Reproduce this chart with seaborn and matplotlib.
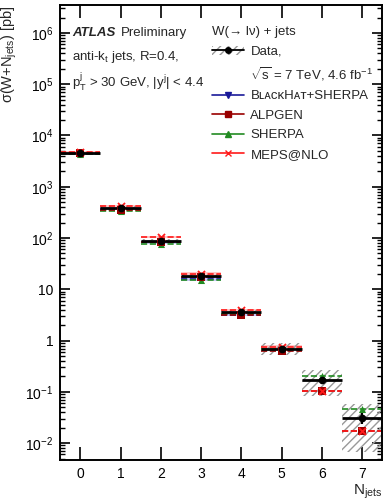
import numpy as np
import seaborn as sns
import matplotlib.pyplot as plt
from matplotlib.lines import Line2D
from matplotlib.patches import Patch
from matplotlib.ticker import FixedLocator, FuncFormatter, LogLocator, NullFormatter

# ---------------- data ----------------
n_jets = np.array([0, 1, 2, 3, 4, 5, 6, 7])

data_xs = [4600, 388, 89, 18.3, 3.54, 0.70, 0.169, 0.0311]
data_stat = [5, 2, 0.5, 0.15, 0.05, 0.02, 0.015, 0.008]
data_lo = [4400, 360, 81, 16.5, 3.12, 0.52, 0.082, 0.0068]
data_hi = [4800, 416, 97, 20.1, 3.96, 0.885, 0.265, 0.0576]

bh_n = np.array([0, 1, 2, 3, 4])
bh_xs = [4400, 370, 84, 16.0, 3.2]
bh_lo = [4150, 345, 78, 14.8, 2.95]
bh_hi = [4650, 395, 90, 17.2, 3.45]

alpgen_xs = [4560, 355, 84, 17.0, 3.2, 0.63, 0.104, 0.0171]
sherpa_xs = [4450, 340, 76, 15.5, 3.35, 0.68, 0.203, 0.0466]

meps_n = np.array([0, 1, 2, 3, 4, 5, 6, 7])
meps_xs = [4850, 430, 103, 20.3, 3.95, 0.76, 0.105, 0.0172]
meps_band_n = np.array([0, 1, 2, 3, 4, 5])
meps_lo = [4650, 410, 98, 19.2, 3.7, 0.71]
meps_hi = [5050, 450, 108, 21.4, 4.2, 0.81]

# ---------------- style ----------------
sns.set_theme(style="ticks")
plt.rcParams["font.family"] = ["Liberation Sans", "DejaVu Sans"]
plt.rcParams["mathtext.fontset"] = "custom"
plt.rcParams["mathtext.rm"] = "Liberation Sans"
plt.rcParams["mathtext.it"] = "Liberation Sans:italic"
plt.rcParams["mathtext.bf"] = "Liberation Sans:bold"
plt.rcParams["hatch.linewidth"] = 1.0

c_bh = "#1a1a99"
c_alp = "#990000"
c_sh = "#228b22"
c_meps = "#ff1a1a"
c_hatch = "#999999"

fig = plt.figure(figsize=(3.83, 5.04), dpi=100)
ax = fig.add_axes([0.157, 0.087, 0.841, 0.903])
ax.set_yscale("log")

# bands
ax.bar(bh_n, np.array(bh_hi) - np.array(bh_lo), bottom=bh_lo, width=1.0,
       color="#9999ee", alpha=0.55, linewidth=0)
ax.bar(meps_band_n, np.array(meps_hi) - np.array(meps_lo), bottom=meps_lo, width=1.0,
       color="#ff9999", alpha=0.55, linewidth=0)
ax.bar(n_jets, np.array(data_hi) - np.array(data_lo), bottom=data_lo, width=1.0,
       facecolor="none", edgecolor=c_hatch, hatch="////", linewidth=0)

# model lines
ax.hlines(bh_xs, bh_n - 0.5, bh_n + 0.5, colors=c_bh, linestyles="--", linewidth=1.2)
ax.hlines(sherpa_xs, n_jets - 0.5, n_jets + 0.5, colors=c_sh, linestyles="--", linewidth=1.2)
ax.hlines(alpgen_xs, n_jets - 0.5, n_jets + 0.5, colors=c_alp, linestyles="--", linewidth=1.2)
ax.hlines(meps_xs, meps_n - 0.5, meps_n + 0.5, colors=c_meps, linestyles="--", linewidth=1.2)

# data line
ax.hlines(data_xs, n_jets - 0.5, n_jets + 0.5, colors="black", linewidth=2.0)

# markers
sns.scatterplot(x=bh_n, y=bh_xs, marker="v", color=c_bh, s=26, linewidth=0, ax=ax, zorder=4)
sns.scatterplot(x=n_jets, y=sherpa_xs, marker="^", color=c_sh, s=26, linewidth=0, ax=ax, zorder=4)
sns.scatterplot(x=n_jets, y=alpgen_xs, marker="s", color=c_alp, s=28, linewidth=0, ax=ax, zorder=4)
sns.scatterplot(x=meps_n, y=meps_xs, marker="x", color=c_meps, s=26, linewidth=1.3, ax=ax, zorder=5)
ax.errorbar(n_jets, data_xs, yerr=data_stat, fmt="o", color="black", ms=4.5,
            elinewidth=1.5, capsize=0, zorder=6)

# axes
ax.set_xlim(-0.5, 7.5)
ax.set_ylim(0.00465, 3.5e6)
ax.xaxis.set_major_locator(FixedLocator(n_jets))
ax.xaxis.set_minor_locator(FixedLocator([]))
ax.yaxis.set_major_locator(LogLocator(base=10, numticks=20))
ax.yaxis.set_minor_locator(LogLocator(base=10, subs=np.arange(2, 10), numticks=20))
ax.yaxis.set_minor_formatter(NullFormatter())


def fmt_y(v, pos):
    e = int(round(np.log10(v)))
    if e == 0:
        return "1"
    if e == 1:
        return "10"
    return r"$\mathregular{10^{%d}}$" % e


ax.yaxis.set_major_formatter(FuncFormatter(fmt_y))
ax.tick_params(axis="both", which="both", direction="in", top=True, right=True,
               labelsize=10, colors="black", width=1.2, pad=5)
ax.tick_params(axis="x", which="major", length=9.5)
ax.tick_params(axis="y", which="major", length=7)
ax.tick_params(axis="y", which="minor", length=3.5, width=1.0)
ax.xaxis.get_offset_text().set_visible(False)
ax.yaxis.get_offset_text().set_visible(False)
for s in ax.spines.values():
    s.set_linewidth(1.4)
    s.set_color("black")

ax.set_ylabel(r"σ(W+N$_{\mathregular{jets}}$) [pb]", loc="top", fontsize=10.5)
ax.yaxis.set_label_coords(-0.128, 1.0)
ax.set_xlabel(r"N$_{\mathregular{jets}}$", loc="right", fontsize=11)
ax.xaxis.set_label_coords(1.0, -0.05)

# annotations
ax.text(0.037, 0.938, "ATLAS", transform=ax.transAxes, fontsize=9.5,
        fontweight="bold", fontstyle="italic", va="center")
ax.text(0.19, 0.938, "Preliminary", transform=ax.transAxes, fontsize=9.5, va="center")
ax.text(0.037, 0.886, r"anti-k$_{\mathregular{t}}$ jets, R=0.4,", transform=ax.transAxes,
        fontsize=9.5, va="center")
ax.text(0.037, 0.831, r"p$_{\mathregular{T}}^{\mathregular{j}}$ > 30 GeV, |y$^{\mathregular{j}}$| < 4.4",
        transform=ax.transAxes, fontsize=9.5, va="center")

# legend
handles = [
    (Patch(facecolor="white", edgecolor=c_hatch, hatch="////", linewidth=0),
     Line2D([], [], color="black", marker="o", ms=4, lw=1.3)),
    Line2D([], [], linestyle="none"),
    Line2D([], [], color=c_bh, marker="v", ms=4.5, lw=1.2),
    Line2D([], [], color=c_alp, marker="s", ms=4.5, lw=1.2),
    Line2D([], [], color=c_sh, marker="^", ms=4.5, lw=1.2),
    Line2D([], [], color=c_meps, marker="x", ms=4.5, lw=1.2),
]
labels = [
    "Data,",
    r"$\sqrt{\mathregular{s}}$ = 7 TeV, 4.6 fb$^{\mathregular{-1}}$",
    "B\u029f\u1d00\u1d04\u1d0bH\u1d00\u1d1b+SHERPA",
    "ALPGEN",
    "SHERPA",
    "MEPS@NLO",
]
leg = ax.legend(handles, labels, loc="upper left", bbox_to_anchor=(0.472, 0.953),
                frameon=False, borderpad=0, borderaxespad=0, handlelength=2.4,
                handletextpad=0.5, labelspacing=0.55, fontsize=9.5,
                title="W(\u2192 l\u03bd) + jets", title_fontsize=9.5, alignment="left")

fig.savefig("out.png", dpi=100)
